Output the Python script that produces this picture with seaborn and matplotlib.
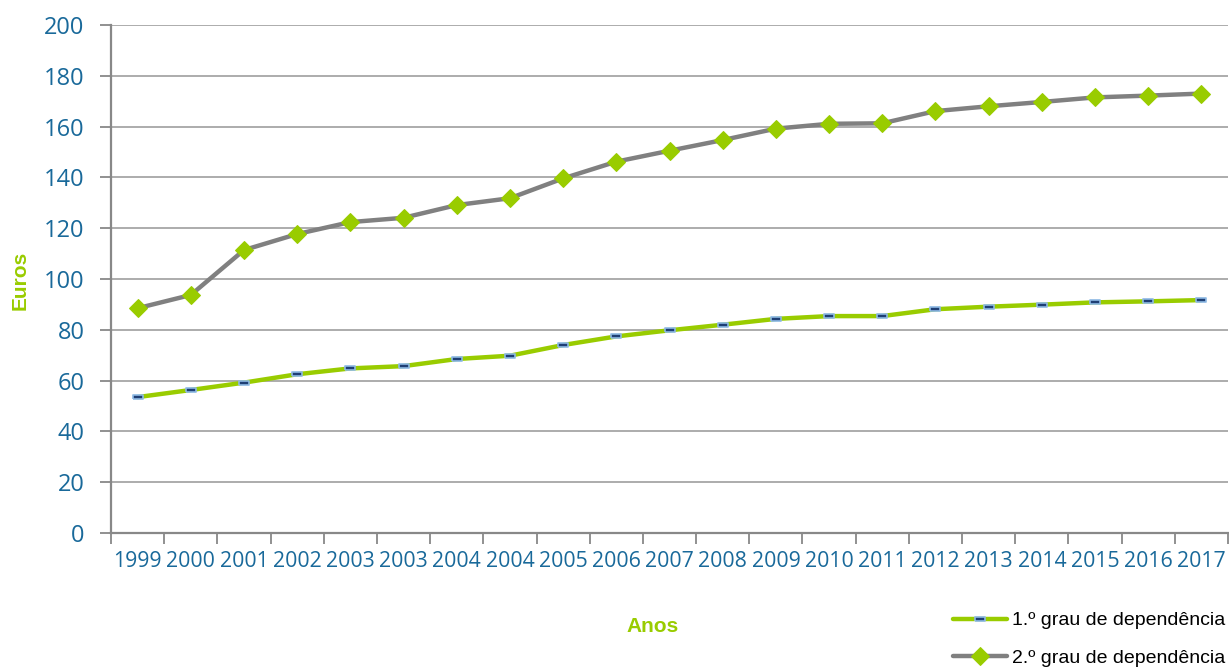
import pandas as pd
import numpy as np
import matplotlib
matplotlib.use("Agg")
import matplotlib.pyplot as plt
import seaborn as sns

# dados
anos = ["1999", "2000", "2001", "2002", "2003", "2003", "2004", "2004", "2005", "2006",
        "2007", "2008", "2009", "2010", "2011", "2012", "2013", "2014", "2015", "2016", "2017"]
grau1 = [53.5, 56.3, 59.2, 62.5, 64.8, 65.7, 68.5, 69.8, 74.0, 77.4,
         79.8, 82.0, 84.3, 85.4, 85.4, 88.1, 89.1, 89.9, 90.8, 91.2, 91.7]
grau2 = [88.5, 93.7, 111.4, 117.7, 122.4, 124.1, 129.1, 131.8, 139.6, 146.2,
         150.5, 154.7, 159.2, 161.1, 161.3, 166.1, 168.0, 169.7, 171.5, 172.2, 173.0]
series = ["1.º grau de dependência", "2.º grau de dependência"]

verde = "#99CC00"
cinza = "#808080"
azul_txt = "#19699A"

df = pd.DataFrame({"pos": np.arange(len(anos)), "ano": anos,
                   series[0]: grau1, series[1]: grau2})

sns.set_style("white")
plt.rcParams['font.family'] = ['Open Sans', 'DejaVu Sans']

fig = plt.figure(figsize=(12.29, 6.68), dpi=100)
ax = fig.add_axes([111/1229, 1 - 533/668, 1117/1229, 508/668])

rect = [(-1, -0.45), (1, -0.45), (1, 0.45), (-1, 0.45), (-1, -0.45)]
sns.lineplot(data=df, x="pos", y=series[0], ax=ax, color=verde, lw=3.2,
             marker=rect, markersize=7, markerfacecolor="#1F3F74",
             markeredgecolor="#8DB9E4", markeredgewidth=1.2, label=series[0])
sns.lineplot(data=df, x="pos", y=series[1], ax=ax, color=cinza, lw=3.2,
             marker="D", markersize=9.5, markerfacecolor=verde,
             markeredgecolor=verde, label=series[1])

ax.set_ylim(0, 200)
ax.set_xlim(-0.5, len(anos) - 0.5)
ax.set_yticks(range(0, 201, 20))
ax.set_xticks(df["pos"])
ax.set_xticklabels(anos)
ax.set_xticks(np.arange(-0.5, len(anos), 1), minor=True)
ax.yaxis.grid(True, color="#A6A6A6", lw=1.3)
ax.set_axisbelow(True)

for s in ["top", "right"]:
    ax.spines[s].set_visible(False)
for s in ["left", "bottom"]:
    ax.spines[s].set_color("#888888")
    ax.spines[s].set_linewidth(1.6)

ax.tick_params(axis="y", which="major", direction="out", length=8, width=1.3,
               color="#888888", labelcolor=azul_txt, labelsize=17, pad=11, left=True)
ax.tick_params(axis="x", which="major", length=0, labelcolor=azul_txt,
               labelsize=15.3, pad=13, bottom=True)
ax.tick_params(axis="x", which="minor", direction="out", length=8, width=1.3,
               color="#888888", bottom=True)

ax.set_xlabel("")
ax.set_ylabel("")
fig.text(653/1229, 1 - 627/668, "Anos", color=verde, fontsize=15, fontweight="bold",
         family=["Liberation Sans", "DejaVu Sans"], ha="center", va="center")
fig.text(20/1229, 1 - 280/668, "Euros", color=verde, fontsize=15, fontweight="bold",
         family=["Liberation Sans", "DejaVu Sans"], ha="center", va="center", rotation=90)

ax.get_legend().remove()
h, l = ax.get_legend_handles_labels()
fig.legend(h, l, loc="lower right", bbox_to_anchor=(1.011, -0.024), frameon=False,
           prop={"family": ["Liberation Sans", "DejaVu Sans"], "size": 14},
           handlelength=2.75, handletextpad=0.25, labelspacing=1.0,
           labelcolor="#000000")

fig.savefig("out.png", dpi=100, facecolor="white")
